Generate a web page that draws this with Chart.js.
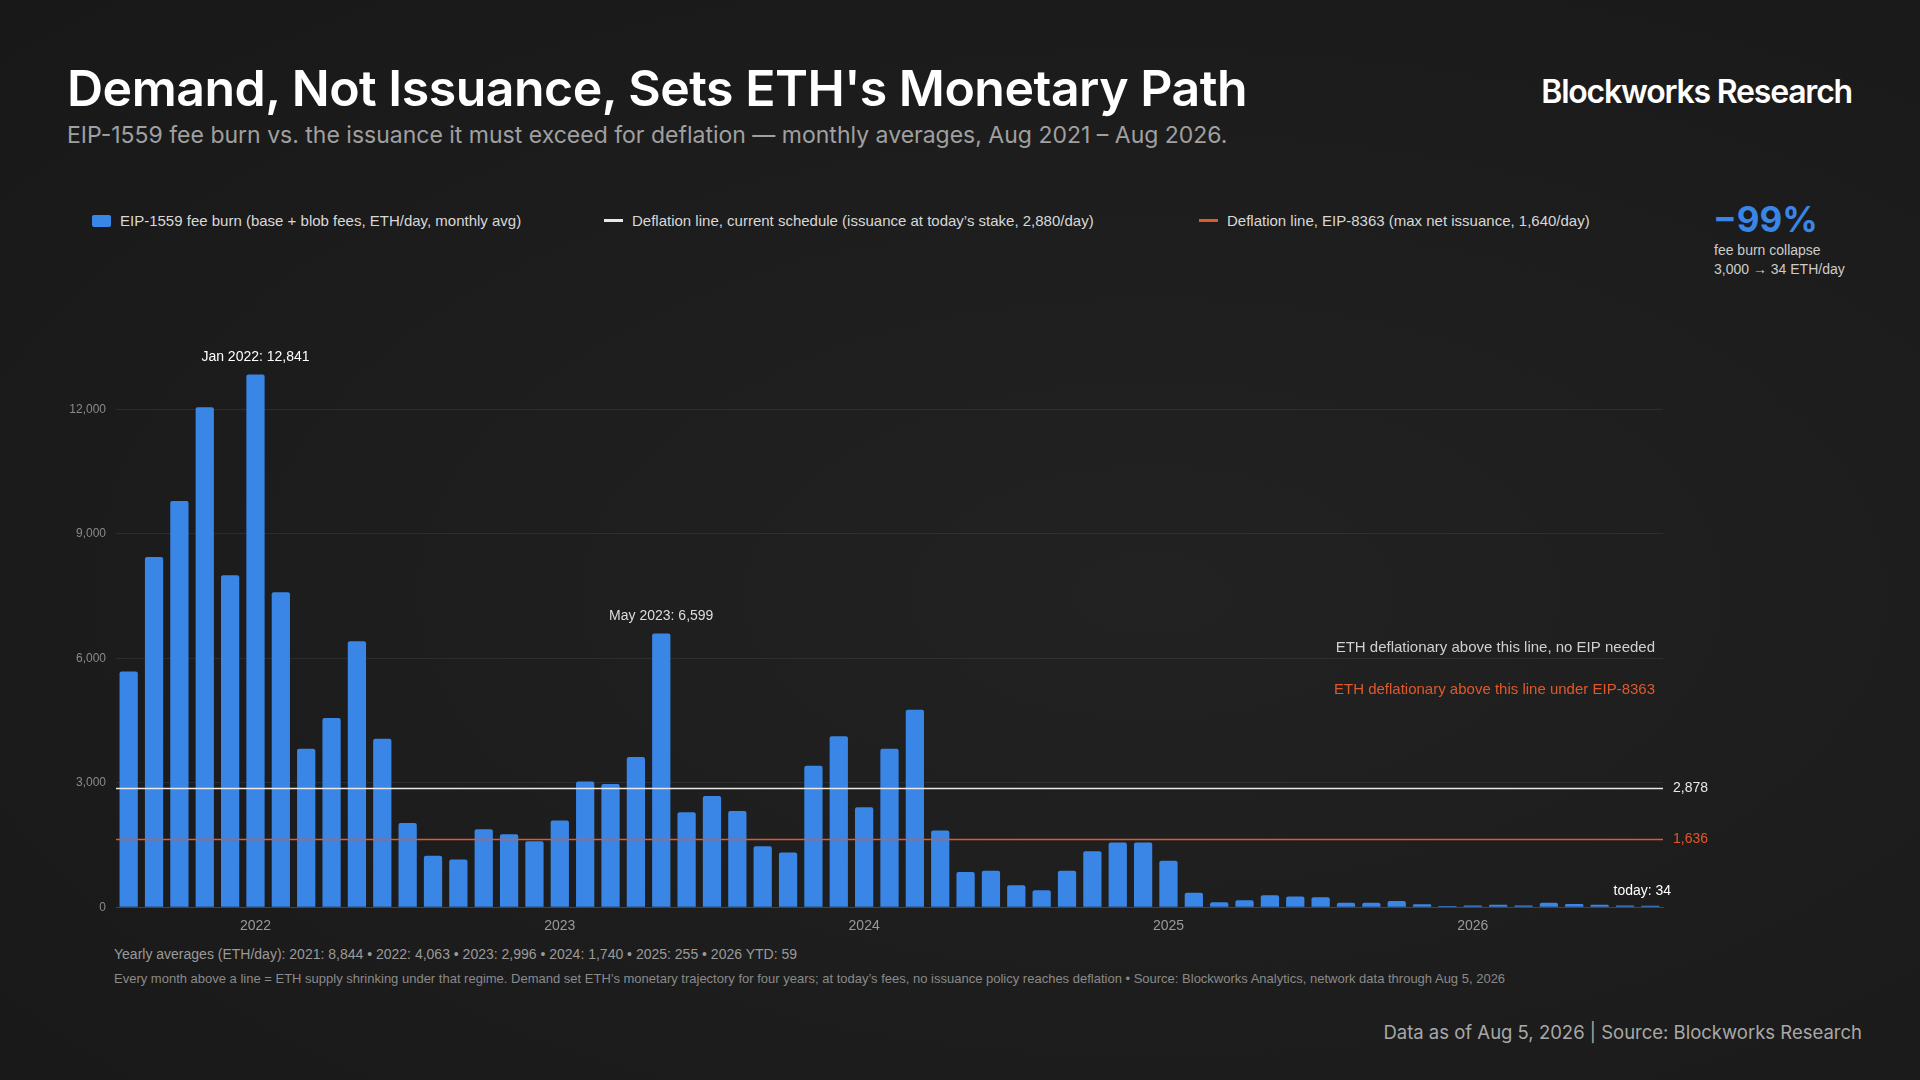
<!DOCTYPE html>
<html>
<head>
<meta charset="utf-8">
<script src="https://cdn.jsdelivr.net/npm/chart.js@4.4.1/dist/chart.umd.min.js"></script>
<style>
  html, body { margin: 0; padding: 0; }
  body { width: 1920px; height: 1080px; background: radial-gradient(ellipse at 60% 55%, #222 0%, #1b1b1b 70%, #181818 100%); color: #fff; font-family: "Liberation Sans", Arial, sans-serif; position: relative; overflow: hidden; }
  .title { position: absolute; left: 67px; top: 58px; font-family: Inter, sans-serif; font-weight: 600; font-size: 50px; letter-spacing: -0.5px; }
  .sub { position: absolute; left: 67px; top: 121px; font-family: Inter, sans-serif; font-size: 23px; color: #a0a0a0; }
  .brand { position: absolute; right: 68px; top: 72px; font-family: Inter, sans-serif; font-weight: 600; font-size: 32px; letter-spacing: -1.2px; }
  .legend { position: absolute; top: 212px; font-size: 15px; color: #d8d8d8; display: flex; align-items: center; }
  .legend i { display: inline-block; margin-right: 9px; }
  .big { position: absolute; left: 1713px; top: 198px; font-family: Inter, sans-serif; font-weight: 700; font-size: 35px; color: #3a86e6; }
  .bigsub { position: absolute; left: 1714px; top: 241px; font-size: 14px; color: #ccc; line-height: 19px; }
  .note1 { position: absolute; left: 114px; top: 946px; font-size: 14px; color: #9a9a9a; }
  .note2 { position: absolute; left: 114px; top: 971px; font-size: 13px; color: #8a8a8a; }
  .src { position: absolute; right: 58px; top: 1021px; font-family: Inter, sans-serif; font-size: 18.5px; color: #a8a8a8; }
  #wrap { position: absolute; left: 60px; top: 330px; width: 1680px; height: 608px; }
</style>
</head>
<body>
<div class="title">Demand, Not Issuance, Sets ETH's Monetary Path</div>
<div class="sub">EIP-1559 fee burn vs. the issuance it must exceed for deflation — monthly averages, Aug 2021 – Aug 2026.</div>
<div class="brand">Blockworks Research</div>
<div class="legend" style="left:92px"><i style="width:19px;height:12px;background:#3a86e6;border-radius:2px"></i>EIP-1559 fee burn (base + blob fees, ETH/day, monthly avg)</div>
<div class="legend" style="left:604px"><i style="width:19px;height:3px;background:#e8e8e8"></i>Deflation line, current schedule (issuance at today’s stake, 2,880/day)</div>
<div class="legend" style="left:1199px"><i style="width:19px;height:3px;background:#e0592c"></i>Deflation line, EIP-8363 (max net issuance, 1,640/day)</div>
<div class="big">−99%</div>
<div class="bigsub">fee burn collapse<br>3,000 → 34 ETH/day</div>
<div id="wrap"><canvas id="c"></canvas></div>
<div class="note1">Yearly averages (ETH/day): 2021: 8,844 • 2022: 4,063 • 2023: 2,996 • 2024: 1,740 • 2025: 255 • 2026 YTD: 59</div>
<div class="note2">Every month above a line = ETH supply shrinking under that regime. Demand set ETH’s monetary trajectory for four years; at today’s fees, no issuance policy reaches deflation • Source: Blockworks Analytics, network data through Aug 5, 2026</div>
<div class="src">Data as of Aug 5, 2026 | Source: Blockworks Research</div>
<script>
const months = [];
const monthNames = ['Jan','Feb','Mar','Apr','May','Jun','Jul','Aug','Sep','Oct','Nov','Dec'];
for (let y = 2021, m = 7; y < 2026 || m <= 7; ) {
  months.push(monthNames[m] + ' ' + y);
  m++; if (m > 11) { m = 0; y++; }
}
const feeBurn = [
  5680, 8440, 9790, 12050, 8000,
  12841, 7590, 3820, 4560, 6410, 4060, 2030, 1240, 1150, 1880, 1760, 1590,
  2090, 3030, 2970, 3620, 6599, 2290, 2680, 2320, 1470, 1320, 3410, 4120,
  2410, 3820, 4760, 1850, 850, 880, 530, 410, 880, 1350, 1560, 1560,
  1120, 350, 120, 170, 290, 260, 240, 110, 110, 150, 70, 30,
  40, 60, 40, 110, 80, 60, 40, 34
];
const yTicks = [0, 3000, 6000, 9000, 12000];
const deflationLines = [
  { value: 2878, label: '2,878', color: '#e8e8e8', note: 'ETH deflationary above this line, no EIP needed', noteY: 6250 },
  { value: 1636, label: '1,636', color: '#e0592c', note: 'ETH deflationary above this line under EIP-8363', noteY: 5250 }
];
const callouts = [
  { month: 'Jan 2022', text: 'Jan 2022: 12,841', color: '#fff' },
  { month: 'May 2023', text: 'May 2023: 6,599', color: '#ddd' },
  { month: 'Aug 2026', text: 'today: 34', color: '#fff' }
];

const overlay = {
  id: 'overlay',
  afterDatasetsDraw(chart) {
    const { ctx, chartArea: a, scales: { x, y } } = chart;
    ctx.save();
    deflationLines.forEach(l => {
      const py = Math.round(y.getPixelForValue(l.value)) + 0.5;
      ctx.strokeStyle = l.color; ctx.lineWidth = 1.5;
      ctx.beginPath(); ctx.moveTo(a.left, py); ctx.lineTo(a.right, py); ctx.stroke();
      ctx.fillStyle = l.color; ctx.font = '14px "Liberation Sans", Arial';
      ctx.textAlign = 'left'; ctx.textBaseline = 'middle';
      ctx.fillText(l.label, a.right + 10, py);
      ctx.font = '15px "Liberation Sans", Arial'; ctx.textAlign = 'right';
      ctx.fillStyle = l.color === '#e8e8e8' ? '#d0d0d0' : l.color;
      ctx.fillText(l.note, a.right - 8, y.getPixelForValue(l.noteY));
    });
    callouts.forEach(c => {
      const i = months.indexOf(c.month);
      const px = x.getPixelForValue(i);
      const py = y.getPixelForValue(feeBurn[i]);
      ctx.fillStyle = c.color; ctx.font = '14px "Liberation Sans", Arial';
      ctx.textBaseline = 'bottom'; ctx.textAlign = 'center';
      if (c.month === 'Aug 2026') ctx.fillText(c.text, px - 8, py - 8);
      else ctx.fillText(c.text, px, py - 10);
    });
    ctx.restore();
  }
};

new Chart(document.getElementById('c'), {
  type: 'bar',
  data: {
    labels: months,
    datasets: [{
      data: feeBurn,
      backgroundColor: '#3a86e6',
      borderRadius: { topLeft: 2, topRight: 2 },
      borderSkipped: 'bottom',
      barPercentage: 0.72,
      categoryPercentage: 1
    }]
  },
  options: {
    responsive: true,
    maintainAspectRatio: false,
    animation: false,
    layout: { padding: { top: 11, right: 77, bottom: 0, left: 0 } },
    plugins: { legend: { display: false }, tooltip: { enabled: false } },
    scales: {
      y: {
        min: 0, max: 13500,
        afterFit(s) { s.width = 56; },
        afterBuildTicks(s) { s.ticks = yTicks.map(v => ({ value: v })); },
        ticks: { color: '#8a8a8a', font: { size: 12, family: 'Liberation Sans' }, padding: 10,
          callback: v => v.toLocaleString('en-US') },
        grid: { color: 'rgba(255,255,255,0.07)', drawTicks: false },
        border: { display: false }
      },
      x: {
        ticks: { color: '#9a9a9a', font: { size: 14, family: 'Liberation Sans' }, autoSkip: false, maxRotation: 0,
          callback(v, i) { const l = months[i]; return l.startsWith('Jan') ? l.slice(4) : ''; } },
        grid: { display: false },
        border: { color: '#444' }
      }
    }
  },
  plugins: [overlay]
});
</script>
</body>
</html>
